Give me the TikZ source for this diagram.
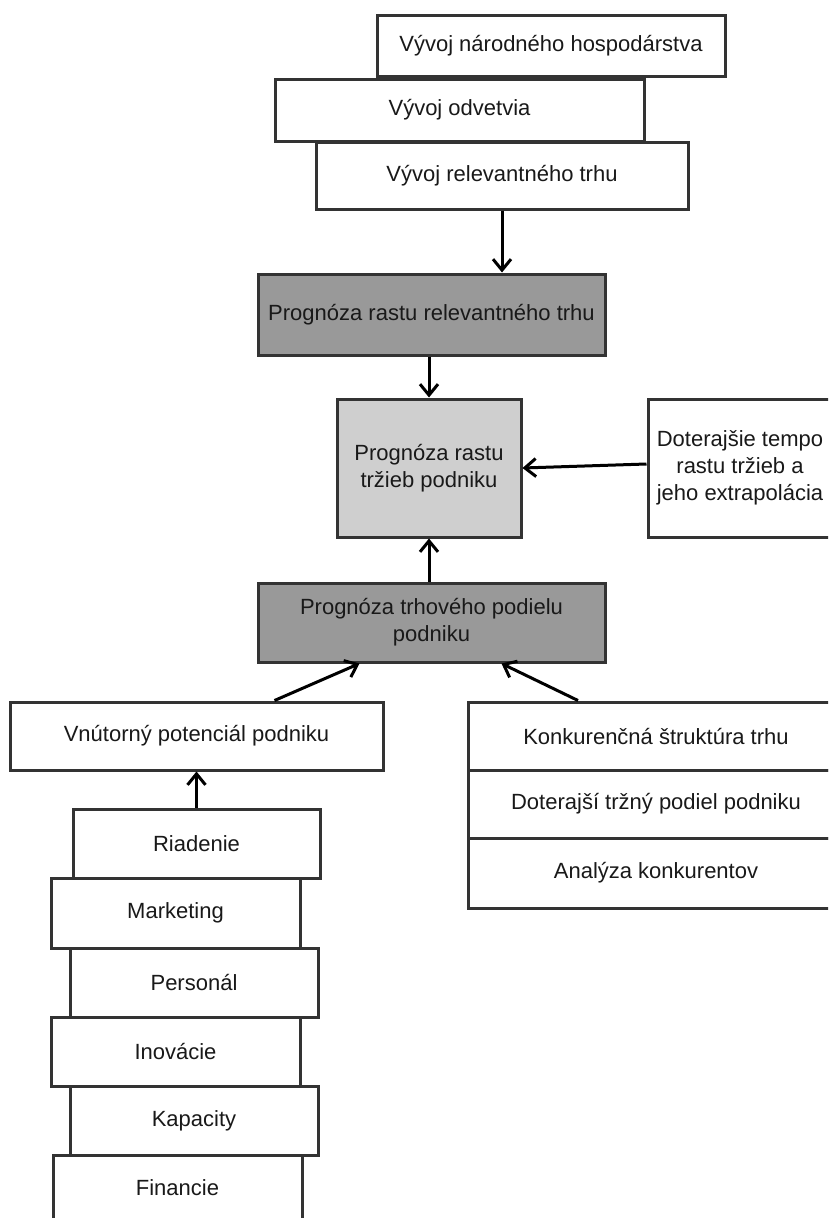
\documentclass[tikz,border=0pt]{standalone}
\usepackage{fontspec}
\setmainfont{Liberation Sans}
\usetikzlibrary{arrows.meta}
\tikzset{
  box/.style={draw=black!80, line width=3pt, rectangle, align=center, inner sep=0pt,
    font=\fontsize{22}{27}\selectfont, text=black!90},
  darkbox/.style={box, fill=black!40},
  lightbox/.style={box, fill=black!19},
  plainbox/.style={box, fill=white},
  link/.style={line width=3pt, black, -{Straight Barb[length=11pt,width=18pt,line width=3pt]}}
}
\begin{document}
\begin{tikzpicture}[x=1pt,y=-1pt]
\path[use as bounding box, clip] (0,0) rectangle (828,1218);
\fill[white] (0,0) rectangle (828,1218);

% upper stack of inputs
\node[plainbox, minimum width=348pt, minimum height=61pt] (A) at (551,45.5) {Vývoj národného hospodárstva};
\node[plainbox, minimum width=369pt, minimum height=62pt] (B) at (459.5,110) {Vývoj odvetvia};
\node[plainbox, minimum width=372pt, minimum height=67pt] (C) at (502,175.5) {Vývoj relevantného trhu};

% forecasts
\node[darkbox, minimum width=347pt, minimum height=81pt] (D) at (431.5,314.5) {Prognóza rastu relevantného trhu};
\node[lightbox, minimum width=184pt, minimum height=138pt] (E) at (429,468) {Prognóza rastu\\tržieb podniku};
\node[plainbox, minimum width=184pt, minimum height=138pt] (F) at (740,468) {Doterajšie tempo\\rastu tržieb a\\jeho extrapolácia};
\node[darkbox, minimum width=347pt, minimum height=79pt] (G) at (431.5,622.5) {Prognóza trhového podielu\\podniku};

% left branch
\node[plainbox, minimum width=373pt, minimum height=68pt] (H) at (196.5,736) {Vnútorný potenciál podniku};
\node[plainbox, minimum width=247pt, minimum height=69pt] (R1) at (196.5,843.5) {Riadenie};
\node[plainbox, minimum width=249pt, minimum height=70pt] (R2) at (175.5,913) {Marketing};
\node[plainbox, minimum width=248pt, minimum height=69pt] (R3) at (194,982.5) {Personál};
\node[plainbox, minimum width=249pt, minimum height=69pt] (R4) at (175.5,1051.5) {Inovácie};
\node[plainbox, minimum width=248pt, minimum height=69pt] (R5) at (194,1120.5) {Kapacity};
\node[plainbox, minimum width=249pt, minimum height=66pt] (R6) at (177.5,1188) {Financie};

% right branch
\node[plainbox, minimum width=376pt, minimum height=68pt] (I1) at (656,736) {Konkurenčná štruktúra trhu};
\node[plainbox, minimum width=376pt, minimum height=68pt] (I2) at (656,804) {Doterajší tržný podiel podniku};
\node[plainbox, minimum width=376pt, minimum height=70pt] (I3) at (656,873) {Analýza konkurentov};

% connectors
\draw[link] (C.south) -- (C.south |- D.north);
\draw[link] (D.south -| E.north) -- (E.north);
\draw[link] ([yshift=4pt]F.west) -- (E.east);
\draw[link] (G.north -| E.south) -- (E.south);
\draw[link] ([xshift=78pt]H.north) -- ([xshift=-72pt]G.south);
\draw[link] ([xshift=-78pt]I1.north) -- ([xshift=70pt]G.south);
\draw[link] (R1.north) -- (R1.north |- H.south);
\end{tikzpicture}
\end{document}
